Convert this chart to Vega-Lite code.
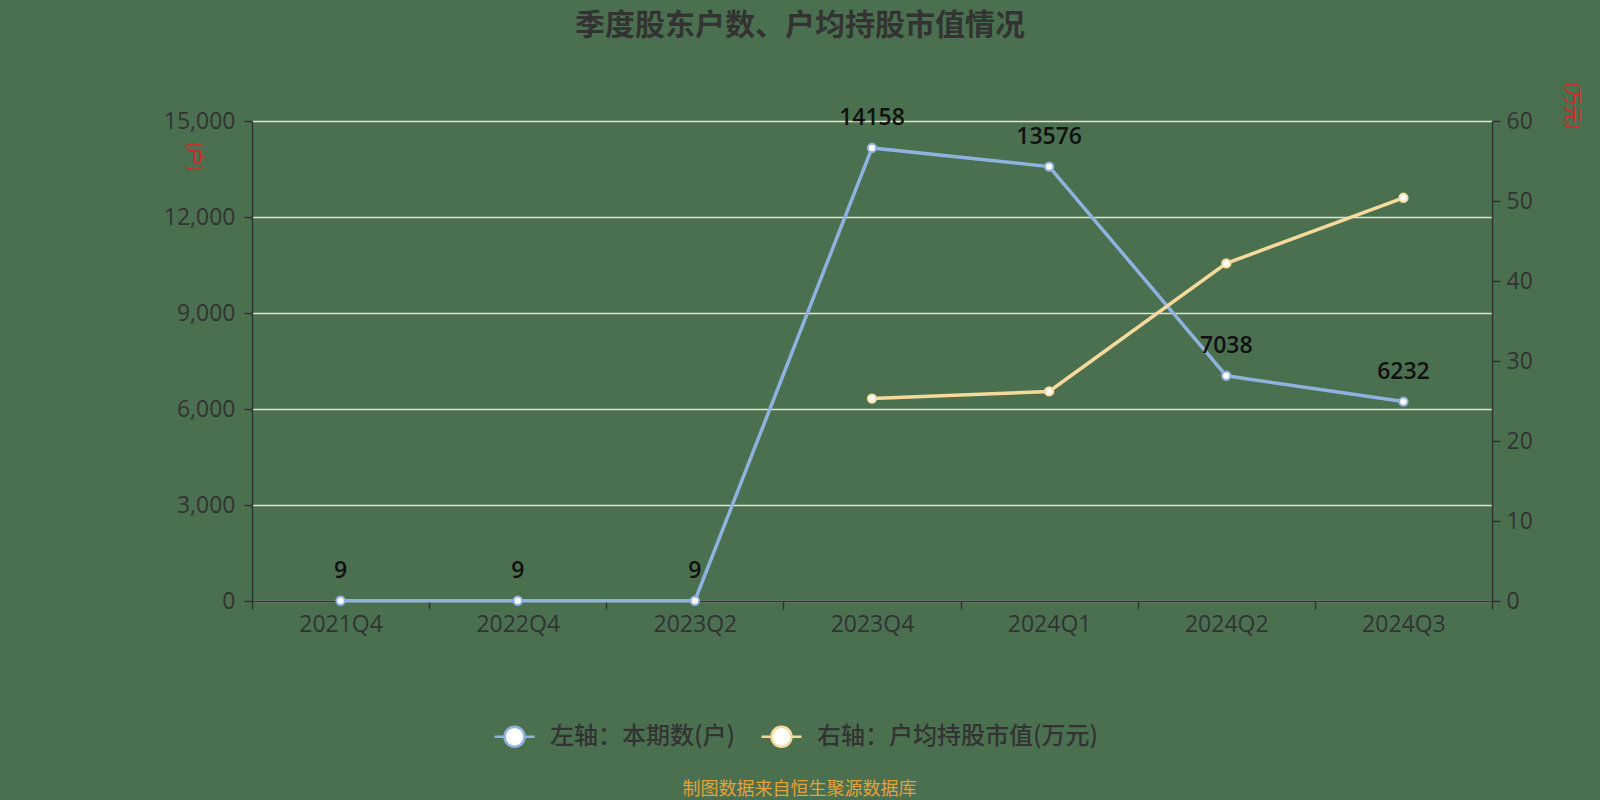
{
  "$schema": "https://vega.github.io/schema/vega-lite/v6.json",
  "width": 1240,
  "height": 480,
  "autosize": {"type": "none"},
  "padding": {"left": 252, "top": 121, "right": 108, "bottom": 199},
  "background": "#4a7050",
  "config": {
    "view": {"stroke": null},
    "font": "Noto Sans CJK SC"
  },
  "title": {
    "text": "季度股东户数、户均持股市值情况",
    "fontSize": 30,
    "fontWeight": "bold",
    "color": "#333333",
    "font": "Noto Sans CJK SC",
    "anchor": "middle",
    "dx": -72,
    "offset": 40
  },
  "data": {
    "values": [
      {"q": "2021Q4", "series": "左轴：本期数(户)", "v": 9},
      {"q": "2022Q4", "series": "左轴：本期数(户)", "v": 9},
      {"q": "2023Q2", "series": "左轴：本期数(户)", "v": 9},
      {"q": "2023Q4", "series": "左轴：本期数(户)", "v": 14158},
      {"q": "2024Q1", "series": "左轴：本期数(户)", "v": 13576},
      {"q": "2024Q2", "series": "左轴：本期数(户)", "v": 7038},
      {"q": "2024Q3", "series": "左轴：本期数(户)", "v": 6232},
      {"q": "2023Q4", "series": "右轴：户均持股市值(万元)", "v": 25.3},
      {"q": "2024Q1", "series": "右轴：户均持股市值(万元)", "v": 26.2},
      {"q": "2024Q2", "series": "右轴：户均持股市值(万元)", "v": 42.2},
      {"q": "2024Q3", "series": "右轴：户均持股市值(万元)", "v": 50.4}
    ]
  },
  "encoding": {
    "x": {
      "field": "q",
      "type": "ordinal",
      "sort": ["2021Q4", "2022Q4", "2023Q2", "2023Q4", "2024Q1", "2024Q2", "2024Q3"],
      "bandPosition": 0.5,
      "scale": {"type": "band", "paddingInner": 0, "paddingOuter": 0},
      "axis": {
        "title": "制图数据来自恒生聚源数据库",
        "titleColor": "#e3a13a",
        "titleFontSize": 18,
        "titleFontWeight": "normal",
        "titleFont": "Noto Sans CJK SC",
        "titleX": 547,
        "titleY": 188,
        "titleAlign": "center",
        "titleBaseline": "middle",
        "labelAngle": 0,
        "labelFont": "Open Sans",
        "labelFontSize": 23,
        "labelColor": "#333333",
        "labelPadding": 4,
        "tickSize": 8,
        "tickColor": "#333333",
        "tickWidth": 1.5,
        "domainColor": "#333333",
        "domainWidth": 1.5,
        "tickBand": "extent",
        "grid": false
      }
    },
    "color": {
      "field": "series",
      "type": "nominal",
      "scale": {
        "domain": ["左轴：本期数(户)", "右轴：户均持股市值(万元)"],
        "range": ["#8fb2df", "#f6da9c"]
      },
      "legend": {
        "title": null,
        "orient": "none",
        "direction": "horizontal",
        "legendX": 241,
        "legendY": 594,
        "symbolType": "M-1,0H-0.5M0.5,0H1M-0.5,0A0.5,0.5 0 1,1 0.5,0A0.5,0.5 0 1,1 -0.5,0Z",
        "symbolSize": 1600,
        "symbolStrokeWidth": 2.5,
        "labelFontSize": 24,
        "labelColor": "#333333",
        "labelFont": "Noto Sans CJK SC",
        "labelFontWeight": 500,
        "labelLimit": 500,
        "labelOffset": 14,
        "columnPadding": 20,
        "encode": {
          "symbols": {"update": {"fill": {"value": "#ffffff"}, "fillOpacity": {"value": 1}, "opacity": {"value": 1}}}
        }
      }
    }
  },
  "layer": [
    {
      "transform": [{"filter": "datum.series === '左轴：本期数(户)'"}],
      "encoding": {
        "y": {
          "field": "v",
          "type": "quantitative",
          "scale": {"domain": [0, 15000], "nice": false},
          "axis": {
            "orient": "left",
            "values": [0, 3000, 6000, 9000, 12000, 15000],
            "format": ",d",
            "title": "(户)",
            "titleColor": "#e02020",
            "titleFontSize": 18,
            "titleFontWeight": "normal",
            "titleAngle": 90,
            "titleX": -60,
            "titleY": 35,
            "titleAlign": "center",
            "titleBaseline": "middle",
            "labelFont": "Open Sans",
            "labelFontSize": 23,
            "labelColor": "#333333",
            "labelPadding": 9,
            "tickSize": 8,
            "tickColor": "#333333",
            "tickWidth": 1.5,
            "domainColor": "#333333",
            "domainWidth": 1.5,
            "grid": true,
            "gridColor": "#e4e4d0",
            "gridWidth": 1.5
          }
        }
      },
      "layer": [
        {"mark": {"type": "line", "strokeWidth": 3.5}},
        {"mark": {"type": "point", "filled": false, "fill": "#ffffff", "fillOpacity": 1, "opacity": 1, "size": 70, "strokeWidth": 2}},
        {
          "mark": {"type": "text", "dy": -30, "fontSize": 23, "font": "Open Sans", "fontWeight": 600},
          "encoding": {
            "text": {"field": "v", "type": "quantitative", "format": "d"},
            "color": {"value": "#111111"}
          }
        }
      ]
    },
    {
      "transform": [{"filter": "datum.series === '右轴：户均持股市值(万元)'"}],
      "encoding": {
        "y": {
          "field": "v",
          "type": "quantitative",
          "scale": {"domain": [0, 60], "nice": false},
          "axis": {
            "orient": "right",
            "values": [0, 10, 20, 30, 40, 50, 60],
            "title": "(万元)",
            "titleColor": "#e02020",
            "titleFontSize": 18,
            "titleFontWeight": "normal",
            "titleAngle": 90,
            "titleX": 78,
            "titleY": -16,
            "titleAlign": "center",
            "titleBaseline": "middle",
            "labelFont": "Open Sans",
            "labelFontSize": 23,
            "labelColor": "#333333",
            "labelPadding": 6,
            "tickSize": 8,
            "tickColor": "#333333",
            "tickWidth": 1.5,
            "domainColor": "#333333",
            "domainWidth": 1.5,
            "grid": false
          }
        }
      },
      "layer": [
        {"mark": {"type": "line", "strokeWidth": 3.5}},
        {"mark": {"type": "point", "filled": false, "fill": "#ffffff", "fillOpacity": 1, "opacity": 1, "size": 70, "strokeWidth": 2}}
      ]
    }
  ],
  "resolve": {"scale": {"y": "independent"}}
}
